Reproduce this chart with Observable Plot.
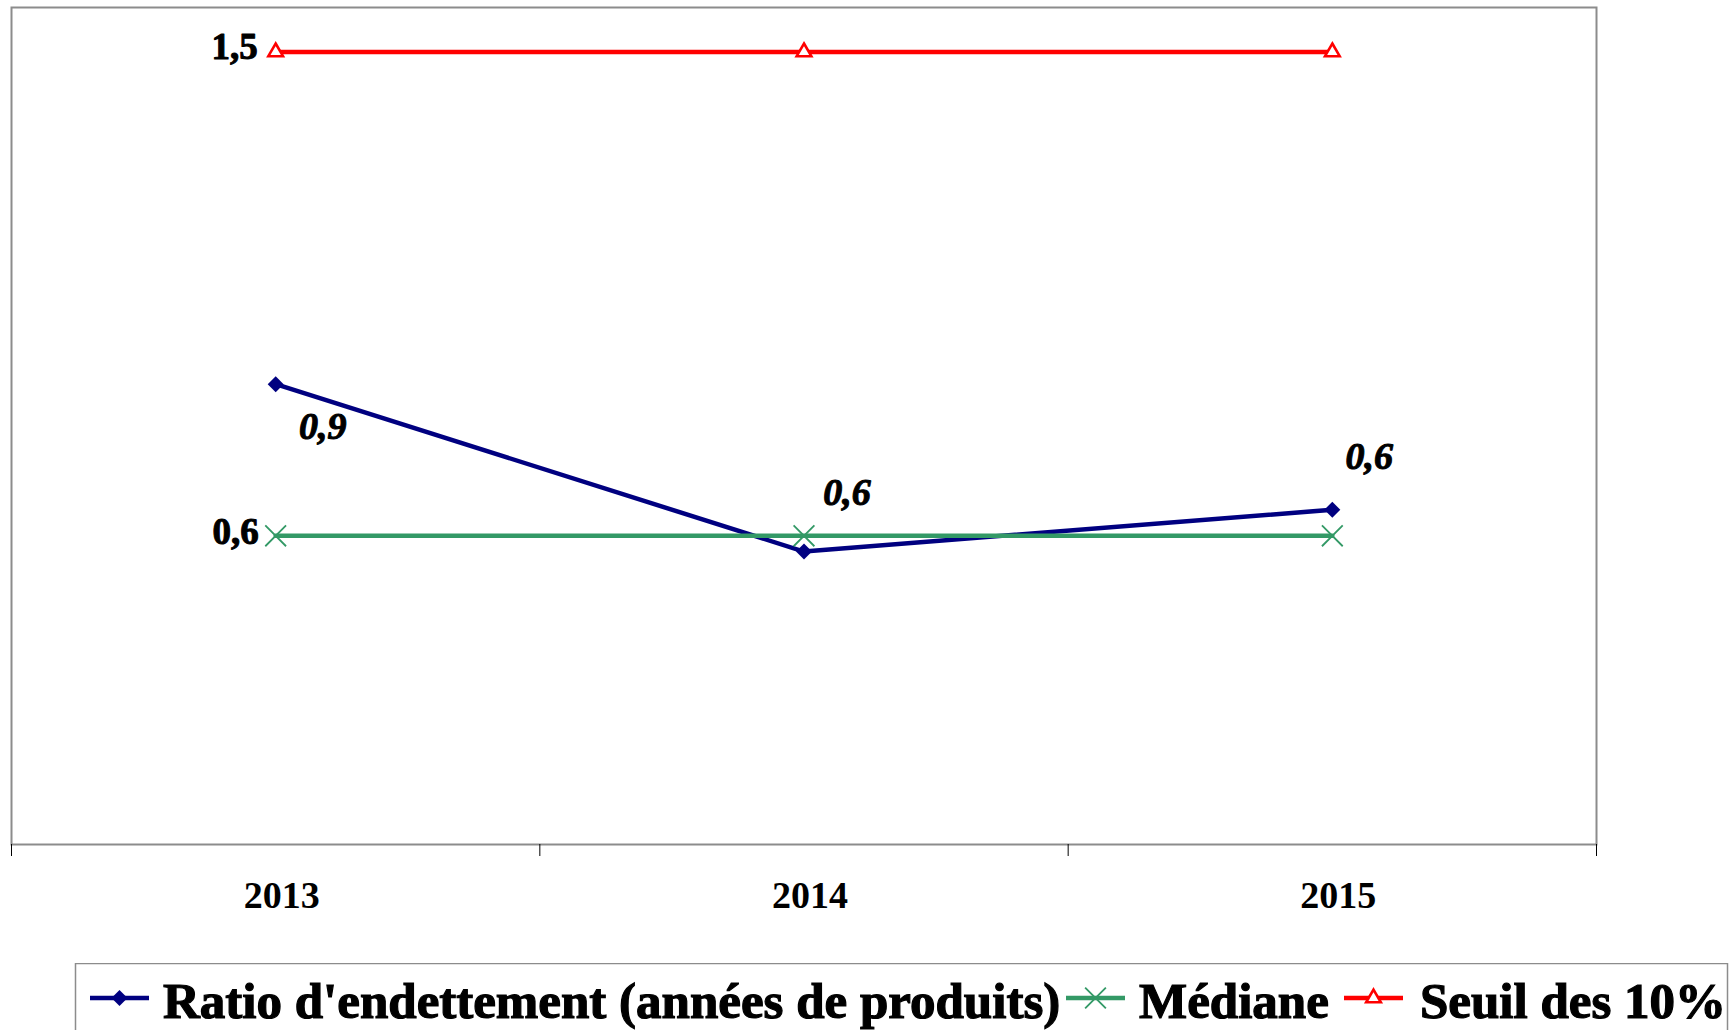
<!DOCTYPE html>
<html><head><meta charset="utf-8">
<script src="https://cdn.jsdelivr.net/npm/d3@7"></script>
<script src="https://cdn.jsdelivr.net/npm/@observablehq/plot@0.6"></script>
<style>
html,body{margin:0;padding:0;background:#fff;overflow:hidden;}
#wrap{position:relative;width:1729px;height:1030px;overflow:hidden;font-family:"Liberation Serif","Times New Roman",serif;}
#wrap > svg.legend{position:absolute;left:0;top:963px;}
</style></head><body><div id="wrap"></div>
<script>
// ---- data ----
const years = [2013, 2014, 2015];
const ratio = [0.88, 0.56, 0.64];          // Ratio d'endettement (années de produits)
const mediane = [0.59, 0.59, 0.59];        // Médiane
const seuil = [1.515, 1.515, 1.515];       // Seuil des 10%
const seriesNames = ["Ratio d'endettement (années de produits)", "Médiane", "Seuil des 10% les plus endettés"];
const seriesColors = ["#000080", "#339966", "#ff0000"];
const tickBounds = [2012.5, 2013.5, 2014.5, 2015.5];
const yDomain = [0, 1.6];

const fmt = v => d3.format(".1f")(v).replace(".", ",");
const rows = vals => years.map((year, i) => ({year, value: vals[i]}));
const ratioRows = rows(ratio), medRows = rows(mediane), seuilRows = rows(seuil);

const serif = "Liberation Serif, Times New Roman, serif";
const first = d => d.year === years[0];
const labelFor = (yr) => d => d.year === yr;
const heavy = {stroke: "#000", strokeWidth: 1, paintOrder: "stroke"};

const chart = Plot.plot({
  width: 1729,
  height: 960,
  marginLeft: 11,
  marginRight: 133,
  marginTop: 7,
  marginBottom: 116,
  style: {fontFamily: serif, background: "#fff", overflow: "visible"},
  x: {type: "linear", domain: [tickBounds[0], tickBounds[tickBounds.length - 1]], label: null},
  y: {domain: yDomain, axis: null, label: null},
  marks: [
    Plot.frame({stroke: "#8c8c8c", strokeWidth: 2}),
    Plot.axisX({ticks: tickBounds, tickSize: 12, tickFormat: () => "", label: null, stroke: "#000", strokeWidth: 1}),
    Plot.axisX({ticks: years, tickSize: 0, tickPadding: 37, tickFormat: d => String(d), label: null,
      fontSize: 38, fontWeight: "bold", fontFamily: serif, fill: "#000", dx: 6, ...heavy}),
    Plot.line(ratioRows, {x: "year", y: "value", stroke: seriesColors[0], strokeWidth: 4.5}),
    Plot.dot(ratioRows, {x: "year", y: "value", symbol: "diamond2", r: 7.2, fill: seriesColors[0], stroke: "none"}),
    Plot.line(medRows, {x: "year", y: "value", stroke: seriesColors[1], strokeWidth: 4.5}),
    Plot.dot(medRows, {x: "year", y: "value", symbol: "times", r: 9.5, stroke: seriesColors[1], strokeWidth: 1.8}),
    Plot.line(seuilRows, {x: "year", y: "value", stroke: seriesColors[2], strokeWidth: 4.5}),
    Plot.dot(seuilRows, {x: "year", y: "value", symbol: "triangle2", r: 7, fill: "#fff", stroke: seriesColors[2], strokeWidth: 2.6}),
    // labels on first point of seuil & médiane
    Plot.text(seuilRows, {filter: first, x: "year", y: "value", text: d => fmt(d.value), textAnchor: "end",
      dx: -18, dy: -5, fontSize: 37, fontWeight: "bold", fontFamily: serif, fill: "#000", ...heavy}),
    Plot.text(medRows, {filter: first, x: "year", y: "value", text: d => fmt(d.value), textAnchor: "end",
      dx: -17, dy: -4, fontSize: 37, fontWeight: "bold", fontFamily: serif, fill: "#000", ...heavy}),
    // ratio labels (italic)
    Plot.text(ratioRows, {filter: labelFor(years[0]), x: "year", y: "value", text: d => fmt(d.value),
      dx: 47, dy: 43, fontSize: 38, fontWeight: "bold", fontStyle: "italic", fontFamily: serif, fill: "#000", ...heavy}),
    Plot.text(ratioRows, {filter: labelFor(years[1]), x: "year", y: "value", text: d => fmt(d.value),
      dx: 43, dy: -59, fontSize: 38, fontWeight: "bold", fontStyle: "italic", fontFamily: serif, fill: "#000", ...heavy}),
    Plot.text(ratioRows, {filter: labelFor(years[2]), x: "year", y: "value", text: d => fmt(d.value),
      dx: 37, dy: -53, fontSize: 38, fontWeight: "bold", fontStyle: "italic", fontFamily: serif, fill: "#000", ...heavy})
  ]
});
document.getElementById("wrap").appendChild(chart);

// ---- legend (below the chart) ----
const legend = d3.create("svg").attr("class", "legend").attr("width", 1729).attr("height", 67);
legend.append("rect").attr("x", 75.5).attr("y", 0.5).attr("width", 1652).attr("height", 90)
  .attr("fill", "none").attr("stroke", "#8c8c8c").attr("stroke-width", 1.5);
const items = [
  {swatch: 90, text: 163, symbol: d3.symbolDiamond2, size: Math.PI * 52, fill: seriesColors[0], stroke: "none", sw: 0},
  {swatch: 1066, text: 1139, symbol: d3.symbolTimes, size: Math.PI * 90, fill: "none", stroke: seriesColors[1], sw: 1.8},
  {swatch: 1344, text: 1420, symbol: d3.symbolTriangle2, size: Math.PI * 49, fill: "#fff", stroke: seriesColors[2], sw: 2.6}
];
items.forEach((it, i) => {
  const g = legend.append("g");
  g.append("line").attr("x1", it.swatch).attr("x2", it.swatch + 59).attr("y1", 35).attr("y2", 35)
    .attr("stroke", seriesColors[i]).attr("stroke-width", 4.5);
  g.append("path").attr("transform", `translate(${it.swatch + 29.5},35)`)
    .attr("d", d3.symbol(it.symbol, it.size)())
    .attr("fill", it.fill).attr("stroke", it.stroke).attr("stroke-width", it.sw);
  g.append("text").attr("x", it.text).attr("y", 55).text(seriesNames[i])
    .attr("font-family", serif).attr("font-weight", "bold").attr("font-size", 51).attr("fill", "#000")
    .attr("stroke", "#000").attr("stroke-width", 1.2).attr("paint-order", "stroke");
});
document.getElementById("wrap").appendChild(legend.node());
</script>
</body></html>
